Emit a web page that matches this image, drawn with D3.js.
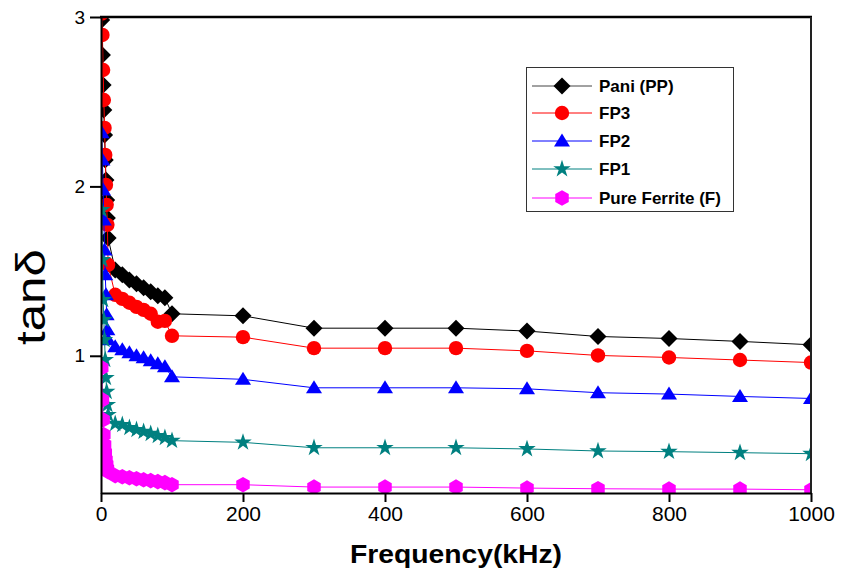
<!DOCTYPE html>
<html><head><meta charset="utf-8">
<script src="https://cdn.jsdelivr.net/npm/d3@7"></script>
<style>body{margin:0;background:#fff}svg{display:block}</style>
</head><body>
<svg id="c" width="847" height="571"></svg>
<script>
const freqs = [1,2,3,4,5,6,7,8,9,10,20,30,40,50,60,70,80,90,100,200,300,400,500,600,700,800,900,1000];
const pani = [2.982,2.776,2.599,2.451,2.304,2.156,2.038,1.920,1.814,1.696,1.507,1.478,1.448,1.425,1.401,1.378,1.354,1.342,1.248,1.236,1.163,1.163,1.163,1.146,1.114,1.102,1.085,1.065];
const fp3 = [3.02,2.894,2.687,2.510,2.345,2.186,2.009,1.891,1.773,1.537,1.360,1.336,1.313,1.289,1.271,1.248,1.201,1.206,1.118,1.110,1.045,1.045,1.045,1.029,1.002,0.990,0.975,0.960];
const fp2 = [2.316,2.156,1.979,1.802,1.625,1.478,1.360,1.242,1.153,1.094,1.053,1.035,1.018,1.000,0.988,0.971,0.953,0.935,0.876,0.861,0.811,0.811,0.811,0.805,0.782,0.774,0.760,0.748];
const fp1 = [1.861,1.566,1.330,1.212,1.094,0.976,0.870,0.788,0.711,0.652,0.599,0.593,0.575,0.563,0.552,0.540,0.528,0.516,0.499,0.489,0.457,0.457,0.457,0.450,0.438,0.434,0.428,0.422];
const ferrite = [0.929,0.740,0.622,0.534,0.475,0.428,0.386,0.357,0.333,0.316,0.292,0.286,0.280,0.274,0.268,0.263,0.257,0.251,0.239,0.239,0.225,0.225,0.225,0.219,0.215,0.213,0.213,0.209];
const seriesNames = ["Pani (PP)","FP3","FP2","FP1","Pure Ferrite (F)"];
const seriesColors = ["#000000","#ff0000","#0000ff","#008080","#ff00ff"];
const seriesShapes = ["diamond","circle","triangle","star","hexagon"];
const xTicks = [0,200,400,600,800,1000];
const yTicks = [1,2,3];

const seriesValues = [pani, fp3, fp2, fp1, ferrite];
const L = 101, R = 811, T = 17, B = 493;
const FONT = "'Liberation Sans', Arial, sans-serif";
const svg = d3.select("#c");
const x = d3.scaleLinear().domain([0,1000]).range([L,R]);
const y = d3.scaleLinear().domain([0.19,3]).range([B,T]);

function shapePath(s){
  if(s==="diamond") return "M0,-8.5L8.5,0L0,8.5L-8.5,0Z";
  if(s==="circle") return d3.symbol(d3.symbolCircle, Math.PI*7.2*7.2)();
  if(s==="triangle") return "M0,-7.5L8,5.5L-8,5.5Z";
  if(s==="star") return d3.symbol(d3.symbolStar, 95)();
  if(s==="hexagon"){
    const r=7.8; let p=[];
    for(let i=0;i<6;i++){const a=Math.PI/3*i - Math.PI/2; p.push([r*Math.cos(a), r*Math.sin(a)]);}
    return "M"+p.map(q=>q.join(",")).join("L")+"Z";
  }
}

svg.append("defs").append("clipPath").attr("id","clip")
  .append("rect").attr("x",L).attr("y",T).attr("width",R-L).attr("height",B-T);

const plot = svg.append("g").attr("clip-path","url(#clip)");
seriesValues.forEach((vals,i)=>{
  const data = freqs.map((f,j)=>({f, v: vals[j]}));
  plot.append("path").datum(data)
    .attr("fill","none").attr("stroke",seriesColors[i]).attr("stroke-width",1)
    .attr("d", d3.line().x(d=>x(d.f)).y(d=>y(d.v)));
  plot.selectAll(null).data(data).enter().append("path")
    .attr("d", shapePath(seriesShapes[i]))
    .attr("transform", d=>`translate(${x(d.f)},${y(d.v)})`)
    .attr("fill", seriesColors[i]);
});

// frame
svg.append("line").attr("x1",L-1).attr("x2",R+1).attr("y1",T).attr("y2",T).attr("stroke","#000").attr("stroke-width",2.5);
svg.append("line").attr("x1",R).attr("x2",R).attr("y1",T).attr("y2",B).attr("stroke","#222").attr("stroke-width",2);

const xAxis = svg.append("g").attr("transform",`translate(0,${B})`)
  .call(d3.axisBottom(x).tickValues(xTicks).tickFormat(d3.format("d")).tickSize(9).tickSizeOuter(0).tickPadding(4));
const yAxis = svg.append("g").attr("transform",`translate(${L},0)`)
  .call(d3.axisLeft(y).tickValues(yTicks).tickFormat(d3.format("d")).tickSize(11).tickSizeOuter(0).tickPadding(5));
[xAxis,yAxis].forEach(a=>{
  a.select(".domain").attr("stroke","#000").attr("stroke-width",2);
  a.selectAll(".tick line").attr("stroke","#000").attr("stroke-width",2);
  a.selectAll("text").attr("font-family",FONT).attr("fill","#000");
});
xAxis.selectAll("text").attr("font-size",21);
yAxis.selectAll("text").attr("font-size",19);

svg.append("text").attr("x",456).attr("y",563).attr("text-anchor","middle")
  .attr("font-family",FONT).attr("font-weight","bold").attr("font-size",25)
  .attr("textLength",212).attr("lengthAdjust","spacingAndGlyphs")
  .text("Frequency(kHz)");
svg.append("text").attr("transform","translate(45,297) rotate(-90)").attr("text-anchor","middle")
  .attr("font-family",FONT).attr("font-size",41)
  .attr("textLength",96).attr("lengthAdjust","spacingAndGlyphs")
  .text("tanδ");

// legend
const lg = svg.append("g");
lg.append("rect").attr("x",526.5).attr("y",67.5).attr("width",207).attr("height",144)
  .attr("fill","#fff").attr("stroke","#333").attr("stroke-width",1);
const rowY = [86,113,141,169,198];
seriesNames.forEach((n,i)=>{
  lg.append("line").attr("x1",532).attr("x2",592).attr("y1",rowY[i]).attr("y2",rowY[i])
    .attr("stroke", i===0 ? "#444" : seriesColors[i]).attr("stroke-width",1);
  lg.append("path").attr("d",shapePath(seriesShapes[i])).attr("transform",`translate(562,${rowY[i]})`).attr("fill",seriesColors[i]);
  lg.append("text").attr("x",599).attr("y",rowY[i]).attr("dy","0.36em")
    .attr("font-family",FONT).attr("font-weight","bold").attr("font-size",17)
    .attr("fill","#000").text(n);
});
</script>
</body></html>
